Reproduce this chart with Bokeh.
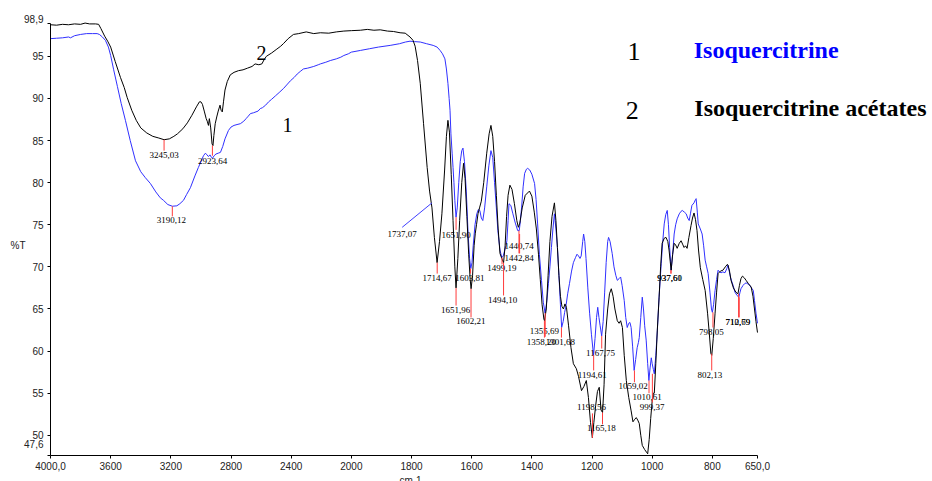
import numpy as np
from bokeh.plotting import figure
from bokeh.models import Range1d, FixedTicker, Label
from bokeh.core.properties import value
from bokeh.embed import file_html
from bokeh.resources import INLINE

# ---------------- data: series 1 (Isoquercitrine, blue) ----------------
wn_iso = [4000, 3960, 3920, 3880, 3867, 3840, 3800, 3760, 3720, 3690, 3675, 3655, 3635, 3615, 3600,
          3580, 3555, 3530, 3502, 3470, 3435, 3400, 3370, 3336, 3300, 3270, 3249, 3220, 3190, 3160,
          3140, 3116, 3095, 3070, 3040, 3017, 2995, 2983, 2970, 2960, 2950, 2940, 2930, 2923, 2912,
          2900, 2885, 2870, 2855, 2840, 2817, 2800, 2780, 2760, 2738, 2715, 2700, 2685, 2671, 2650,
          2620, 2605, 2591, 2570, 2550, 2530, 2505, 2480, 2450, 2430, 2405, 2380, 2360, 2340, 2319,
          2290, 2250, 2220, 2206, 2170, 2140, 2100, 2070, 2050, 2020, 2000, 1970, 1940, 1910, 1871,
          1840, 1820, 1805, 1790, 1771, 1750, 1728, 1715, 1705, 1697, 1689, 1684, 1679, 1675, 1672,
          1669, 1665, 1662, 1659, 1656, 1652, 1648, 1643, 1638, 1633, 1629, 1624, 1618, 1612, 1607,
          1603, 1599, 1595, 1589, 1583, 1578, 1573, 1568, 1563, 1557, 1550, 1543, 1536, 1530, 1524,
          1518, 1513, 1506, 1500, 1495, 1490, 1486, 1483, 1479, 1476, 1470, 1463, 1455, 1447, 1442,
          1438, 1434, 1429, 1424, 1418, 1414, 1407, 1400, 1391, 1386, 1381, 1375, 1368, 1362, 1356,
          1350, 1345, 1340, 1335, 1330, 1325, 1320, 1315, 1310, 1305, 1301, 1296, 1291, 1286, 1281,
          1275, 1268, 1262, 1255, 1250, 1245, 1240, 1236, 1231, 1228, 1224, 1220, 1214, 1208, 1202,
          1195, 1190, 1185, 1181, 1177, 1173, 1168, 1163, 1158, 1153, 1148, 1145, 1140, 1133, 1127,
          1121, 1116, 1110, 1105, 1100, 1093, 1088, 1083, 1078, 1074, 1070, 1065, 1060, 1055, 1050,
          1046, 1043, 1038, 1033, 1029, 1025, 1020, 1015, 1011, 1007, 1003, 1000, 996, 993, 988,
          983, 977, 970, 965, 960, 955, 950, 946, 942, 937, 932, 927, 922, 917, 910,
          904, 900, 893, 887, 882, 877, 873, 868, 861, 856, 854, 850, 847, 840, 834,
          829, 824, 819, 814, 808, 803, 800, 796, 791, 786, 781, 776, 771, 765, 758,
          752, 748, 744, 740, 735, 731, 725, 718, 712, 708, 705, 698, 693, 688, 683,
          678, 672, 668, 664, 660, 655, 650]
t_iso = [97.1, 97.15, 97.2, 97.3, 97.2, 97.45, 97.6, 97.7, 97.7, 97.7, 97.6, 97.3, 96.9, 96.1, 95.1,
         93.4, 91.4, 89.4, 87.4, 85.0, 82.6, 81.3, 80.6, 79.9, 78.9, 78.2, 77.9, 77.4, 77.2, 77.25,
         77.5, 77.9, 78.6, 79.4, 80.8, 81.8, 82.7, 83.2, 83.5, 83.3, 83.1, 83.3, 83.0, 82.9, 83.2,
         83.4, 83.5, 83.6, 84.3, 85.2, 86.2, 86.6, 86.8, 86.9, 87.0, 87.3, 87.6, 87.9, 88.2, 88.3,
         88.5, 88.8, 88.9, 89.2, 89.6, 89.9, 90.3, 90.7, 91.2, 91.6, 92.1, 92.5, 92.9, 93.2, 93.5,
         93.6, 93.8, 94.0, 94.1, 94.3, 94.5, 94.7, 94.9, 95.1, 95.3, 95.5, 95.7, 95.9, 96.1, 96.3,
         96.5, 96.7, 96.8, 96.75, 96.7, 96.5, 96.3, 96.1, 95.7, 95.3, 94.7, 93.5, 91.8, 90.0, 88.6,
         85.8, 83.5, 81.8, 80.0, 77.9, 75.9, 77.0, 80.0, 82.5, 83.8, 84.1, 82.5, 79.0, 74.0, 71.0,
         69.8, 70.5, 72.5, 75.0, 76.3, 76.8, 76.7, 75.8, 75.5, 77.0, 79.5, 82.0, 83.8, 83.0, 80.0,
         77.0, 74.3, 72.0, 71.1, 71.3, 72.0, 72.5, 73.1, 75.5, 77.5, 77.3, 76.3, 75.2, 74.3, 74.3,
         75.5, 77.1, 79.5, 81.1, 81.6, 81.7, 81.5, 81.0, 79.9, 78.0, 75.2, 71.5, 68.4, 65.8, 64.5,
         66.0, 68.0, 70.0, 72.3, 74.5, 76.3, 74.5, 72.3, 69.0, 65.5, 62.8, 63.5, 64.6, 65.5, 66.8,
         68.0, 69.5, 70.5, 71.1, 71.5, 71.3, 71.0, 71.3, 73.0, 73.9, 73.0, 71.0, 67.5, 64.5, 62.0,
         59.5, 61.5, 64.0, 65.2, 64.0, 63.0, 61.8, 63.5, 67.0, 70.5, 73.0, 73.5, 73.0, 71.6, 70.0,
         69.0, 68.4, 68.6, 68.8, 67.8, 66.0, 64.0, 62.8, 63.3, 63.4, 62.8, 60.5, 57.7, 59.0, 60.4,
         61.0, 61.6, 64.0, 66.4, 65.0, 63.0, 61.3, 58.5, 56.5, 58.0, 59.2, 58.5, 57.8, 57.3, 59.5,
         62.4, 66.5, 70.4, 73.0, 75.1, 76.2, 76.7, 75.0, 72.3, 69.6, 71.5, 73.9, 75.0, 75.7, 76.3,
         76.6, 76.7, 76.5, 76.3, 75.8, 75.5, 76.3, 77.3, 77.6, 78.0, 78.1, 76.5, 75.1, 74.5, 73.9,
         72.5, 70.8, 70.0, 69.2, 67.0, 65.0, 64.6, 65.5, 67.2, 68.5, 69.6, 69.4, 69.3, 69.4, 69.3,
         69.8, 70.2, 69.5, 68.8, 68.2, 67.8, 67.0, 66.6, 66.4, 67.0, 67.4, 67.8, 68.0, 68.1, 68.0,
         67.9, 67.6, 67.4, 67.2, 66.0, 64.5, 63.3]

# ---------------- data: series 2 (Isoquercitrine acetates, black) ----------------
wn_ac = [4000, 3960, 3920, 3880, 3840, 3800, 3770, 3740, 3700, 3680, 3665, 3640, 3620, 3600, 3570,
         3535, 3510, 3490, 3460, 3430, 3400, 3360, 3320, 3280, 3245, 3210, 3180, 3156, 3120, 3090,
         3060, 3030, 3010, 3000, 2990, 2978, 2965, 2958, 2950, 2944, 2935, 2926, 2920, 2914, 2905,
         2895, 2885, 2873, 2866, 2858, 2850, 2840, 2825, 2805, 2780, 2750, 2720, 2690, 2660, 2640,
         2615, 2595, 2580, 2565, 2530, 2500, 2470, 2452, 2420, 2385, 2350, 2300, 2250, 2206, 2150,
         2100, 2050, 2000, 1970, 1947, 1925, 1904, 1880, 1860, 1838, 1821, 1805, 1795, 1788, 1780,
         1771, 1760, 1748, 1740, 1732, 1724, 1715, 1707, 1699, 1690, 1684, 1679, 1674, 1668, 1662,
         1656, 1652, 1646, 1640, 1633, 1627, 1622, 1616, 1610, 1605, 1602, 1597, 1592, 1588, 1584,
         1579, 1574, 1568, 1560, 1550, 1542, 1536, 1530, 1524, 1518, 1512, 1506, 1500, 1494, 1489,
         1484, 1479, 1473, 1466, 1458, 1450, 1445, 1440, 1432, 1422, 1408, 1400, 1392, 1385, 1378,
         1372, 1366, 1360, 1358, 1352, 1346, 1340, 1333, 1325, 1320, 1315, 1310, 1305, 1300, 1295,
         1290, 1285, 1278, 1270, 1262, 1252, 1245, 1235, 1227, 1219, 1212, 1205, 1199, 1194, 1188,
         1182, 1176, 1170, 1165, 1160, 1155, 1148, 1142, 1136, 1130, 1124, 1116, 1110, 1105, 1099,
         1093, 1086, 1078, 1070, 1064, 1058, 1053, 1048, 1043, 1038, 1033, 1025, 1019, 1015, 1010,
         1005, 1000, 996, 993, 988, 983, 977, 972, 967, 960, 954, 948, 944, 940, 937,
         932, 927, 922, 917, 910, 904, 899, 894, 889, 884, 878, 871, 866, 861, 856,
         851, 846, 840, 832, 824, 816, 810, 805, 802, 797, 791, 786, 781, 773, 765,
         757, 750, 748, 743, 738, 730, 722, 715, 710, 705, 700, 694, 688, 680, 671,
         665, 660, 655, 650]
t_ac = [98.75, 98.7, 98.8, 98.75, 98.85, 98.8, 98.95, 98.85, 98.85, 98.8, 98.3, 97.4, 96.8, 96.1, 94.4,
        92.5, 91.3, 90.1, 88.6, 87.4, 86.5, 85.9, 85.5, 85.3, 85.1, 85.2, 85.5, 85.8, 86.4, 87.1,
        88.0, 89.0, 89.6, 89.6, 89.3, 88.5, 87.6, 87.3, 86.8, 87.6, 86.5, 84.6, 84.4, 85.6, 87.0,
        87.8, 88.5, 89.2, 88.6, 88.4, 89.6, 91.0, 92.0, 92.8, 93.1, 93.3, 93.4, 93.6, 93.8, 94.1,
        94.0, 94.1, 94.6, 95.0, 95.4, 95.8, 96.2, 96.5, 97.1, 97.6, 97.7, 97.9, 97.7, 97.8, 97.75,
        97.9, 98.0, 98.05, 98.1, 98.2, 98.1, 98.15, 98.0, 97.95, 97.8, 97.75, 97.3, 96.9, 96.2, 94.5,
        91.8, 87.0, 81.8, 79.0, 77.0, 73.5, 70.5, 73.0, 76.3, 81.5, 85.5, 87.4, 86.0, 81.0, 75.5,
        70.0, 67.5, 71.0, 75.5, 80.0, 82.3, 80.5, 76.0, 71.5, 68.5, 67.4, 69.0, 72.5, 74.0, 75.0,
        76.3, 77.0, 77.8, 80.0, 83.5, 85.8, 86.8, 85.5, 82.5, 78.5, 74.5, 71.6, 71.0, 70.5, 72.5,
        76.0, 78.5, 79.7, 79.2, 77.5, 75.5, 74.7, 75.2, 77.0, 78.5, 79.0, 78.4, 76.5, 74.5, 71.5,
        68.5, 65.5, 63.8, 63.6, 65.0, 69.0, 73.0, 76.0, 77.6, 75.5, 72.3, 69.0, 66.5, 65.3, 65.0,
        65.6, 65.2, 63.0, 60.4, 58.5, 57.9, 57.0, 55.3, 55.8, 56.5, 54.5, 51.5, 49.7, 51.5, 53.5,
        55.2, 55.7, 53.0, 52.7, 56.0, 62.0, 65.0, 66.8, 67.4, 66.5, 65.0, 63.6, 63.3, 63.6, 62.8,
        59.5, 56.5, 54.5, 52.9, 51.6, 51.9, 52.1, 51.8, 51.4, 50.0, 48.8, 48.3, 48.0, 47.8, 49.5,
        52.0, 54.1, 55.0, 55.0, 58.5, 62.5, 66.4, 70.0, 72.8, 73.4, 73.5, 73.0, 72.0, 70.6, 69.6,
        71.5, 72.8, 72.6, 72.2, 72.8, 73.1, 72.7, 72.3, 72.5, 72.2, 73.5, 74.9, 75.8, 76.4, 75.6,
        74.3, 72.0, 69.9, 68.5, 67.2, 64.5, 62.0, 59.7, 59.5, 61.5, 64.5, 67.0, 69.2, 69.5, 69.6,
        70.0, 70.3, 70.2, 69.5, 68.4, 67.5, 67.0, 66.8, 67.8, 68.6, 68.9, 68.7, 68.4, 68.0, 67.6,
        66.5, 65.0, 63.5, 62.2]

# ---------------- axes ----------------
x_tick_wn = [4000, 3600, 3200, 2800, 2400, 2000, 1800, 1600, 1400, 1200, 1000, 800, 650]
x_tick_labels = ["4000,0", "3600", "3200", "2800", "2400", "2000", "1800", "1600", "1400",
                 "1200", "1000", "800", "650,0"]
y_ticks = [47.6, 50, 55, 60, 65, 70, 75, 80, 85, 90, 95, 98.9]
y_tick_labels = ["47,6", "50", "55", "60", "65", "70", "75", "80", "85", "90", "95", "98,9"]

# ---------------- band annotations ----------------
peak_text = ["3245,03", "3190,12", "2923,64", "1714,67", "1651,90", "1651,96", "1603,81", "1602,21",
             "1499,19", "1494,10", "1440,74", "1442,84", "1355,69", "1358,20", "1301,68", "1194,61",
             "1198,56", "1167,75", "1165,18", "1059,02", "1010,61", "999,37", "937,60", "937,61",
             "802,13", "798,05", "712,79", "710,69"]
peak_wn = [3245.03, 3190.12, 2923.64, 1714.67, 1651.90, 1651.96, 1603.81, 1602.21, 1499.19, 1494.10,
           1440.74, 1442.84, 1355.69, 1358.20, 1301.68, 1194.61, 1198.56, 1167.75, 1165.18, 1059.02,
           1010.61, 999.37, 937.60, 937.61, 802.13, 798.05, 712.79, 710.69]
peak_t = [85.1, 77.2, 84.4, 70.5, 75.9, 67.5, 69.8, 67.4, 71.1, 70.5, 73.9, 74.3, 64.5, 63.6, 62.8,
          59.5, 49.7, 61.8, 52.7, 57.7, 56.5, 57.3, 69.6, 69.6, 59.7, 64.6, 66.8, 66.4]
peak_tick_end = [83.8, 76.0, 83.2, 69.2, 74.4, 65.4, 69.2, 64.0, 70.3, 66.6, 71.6, 71.6, 61.7, 61.6,
                 61.6, 57.7, 52.6, 60.3, 51.3, 56.3, 55.0, 53.9, 69.2, 69.2, 57.7, 62.8, 64.0, 64.0]
label_wn = [3245, 3196, 2923, 1715, 1652, 1653, 1606, 1603, 1500, 1497, 1442, 1442, 1358, 1368, 1305,
            1199, 1202, 1172, 1169, 1063, 1017, 1000, 942, 942, 808, 803, 715, 715]
label_t = [83.6, 75.9, 82.9, 69.0, 74.1, 65.2, 69.0, 63.9, 70.2, 66.4, 72.8, 71.35, 62.7, 61.4, 61.4,
           57.5, 53.7, 60.1, 51.2, 56.15, 54.85, 53.7, 69.0, 69.0, 57.5, 62.6, 63.75, 63.75]


def u(wn):
    """Instrument abscissa: 2x expansion below 2000 cm-1."""
    a = np.asarray(wn, dtype=float)
    return np.where(a > 2000, 2000 + (a - 2000) / 2.0, a)


def uu(wn):
    return float(u([wn])[0])


# the frame fills the canvas; the axes sit at fixed locations (u=3000 i.e. 4000 cm-1, and 47.6 %T)
p = figure(width=932, height=481, x_range=Range1d(3166.2, 68.3), y_range=Range1d(44.512, 101.631),
           output_backend="svg", toolbar_location=None,
           min_border_left=0, min_border_right=0, min_border_top=0, min_border_bottom=0)
p.grid.visible = False
p.outline_line_color = None
p.background_fill_color = "white"
p.border_fill_color = "white"

SERIF = "Liberation Serif"
SANS = "Liberation Sans"

# curves
p.line(u(wn_iso), t_iso, line_color="#3030ff", line_width=1)
p.line(u(wn_ac), t_ac, line_color="black", line_width=1)

# band labels
p.text(x=u(label_wn), y=label_t, text=peak_text, text_font=value(SERIF), text_font_size="9px",
       text_align="center", text_baseline="top", text_color="black")
p.segment(x0=u(peak_wn), y0=peak_t, x1=u(peak_wn), y1=peak_tick_end, line_color="#ff3b3b",
          line_width=1)

# 1737,07 with leader
p.segment(x0=[uu(1831)], y0=[74.7], x1=[uu(1732)], y1=[77.6], line_color="#4040ff", line_width=1)
p.add_layout(Label(x=uu(1831), y=74.3, text="1737,07", text_font=SERIF, text_font_size="9px",
                   text_align="center", text_baseline="top", text_color="black"))

# axes
xa = p.xaxis[0]
xa.ticker = FixedTicker(ticks=[float(v) for v in u(x_tick_wn)])
xa.major_label_overrides = {float(v): s for v, s in zip(u(x_tick_wn), x_tick_labels)}
xa.bounds = (650, 3000)
xa.fixed_location = 47.6
ya = p.yaxis[0]
ya.ticker = FixedTicker(ticks=[float(v) for v in y_ticks])
ov = {float(v): s for v, s in zip(y_ticks, y_tick_labels)}
ov[98.9] = ""
ov[47.6] = ""
ya.major_label_overrides = ov
ya.bounds = (47.6, 98.9)
ya.fixed_location = 3000
for ax in (xa, ya):
    ax.minor_tick_line_color = None
    ax.major_tick_out = 3
    ax.major_tick_in = 0
    ax.major_label_standoff = 4
    ax.major_label_text_font = SANS
    ax.major_label_text_font_size = "10px"
    ax.major_label_text_color = "#222222"
    ax.axis_line_color = "black"
    ax.major_tick_line_color = "black"


def plain(x, y, text, align, baseline, size="10px", font=SANS, color="#222222", style="normal"):
    p.add_layout(Label(x=x, y=y, text=text, text_font=font, text_font_size=size,
                       text_font_style=style, text_align=align, text_baseline=baseline,
                       text_color=color))


# end labels of the y axis (shifted inward as in the original) and axis titles
plain(3023.3, 99.43, y_tick_labels[-1], "right", "middle")
plain(3023.3, 49.02, y_tick_labels[0], "right", "middle")
plain(3133, 72.54, "%T", "left", "middle")
plain(1803.4, 45.34, "cm-1", "center", "top")

# curve numbers
plain(uu(2631), 96.2, "2", "left", "top", size="20px", font=SERIF, color="black")
plain(uu(2458), 87.7, "1", "left", "top", size="20px", font=SERIF, color="black")

# legend
plain(1082, 96.6, "1", "left", "top", size="26px", font=SERIF, color="black")
plain(862, 97.30, "Isoquercitrine", "left", "top", size="24px", font=SERIF, color="#0000ff",
      style="bold")
plain(1088, 89.6, "2", "left", "top", size="26px", font=SERIF, color="black")
plain(860, 90.41, "Isoquercitrine acétates", "left", "top", size="24px", font=SERIF,
      color="black", style="bold")

open("out.html", "w").write(file_html(p, INLINE))
